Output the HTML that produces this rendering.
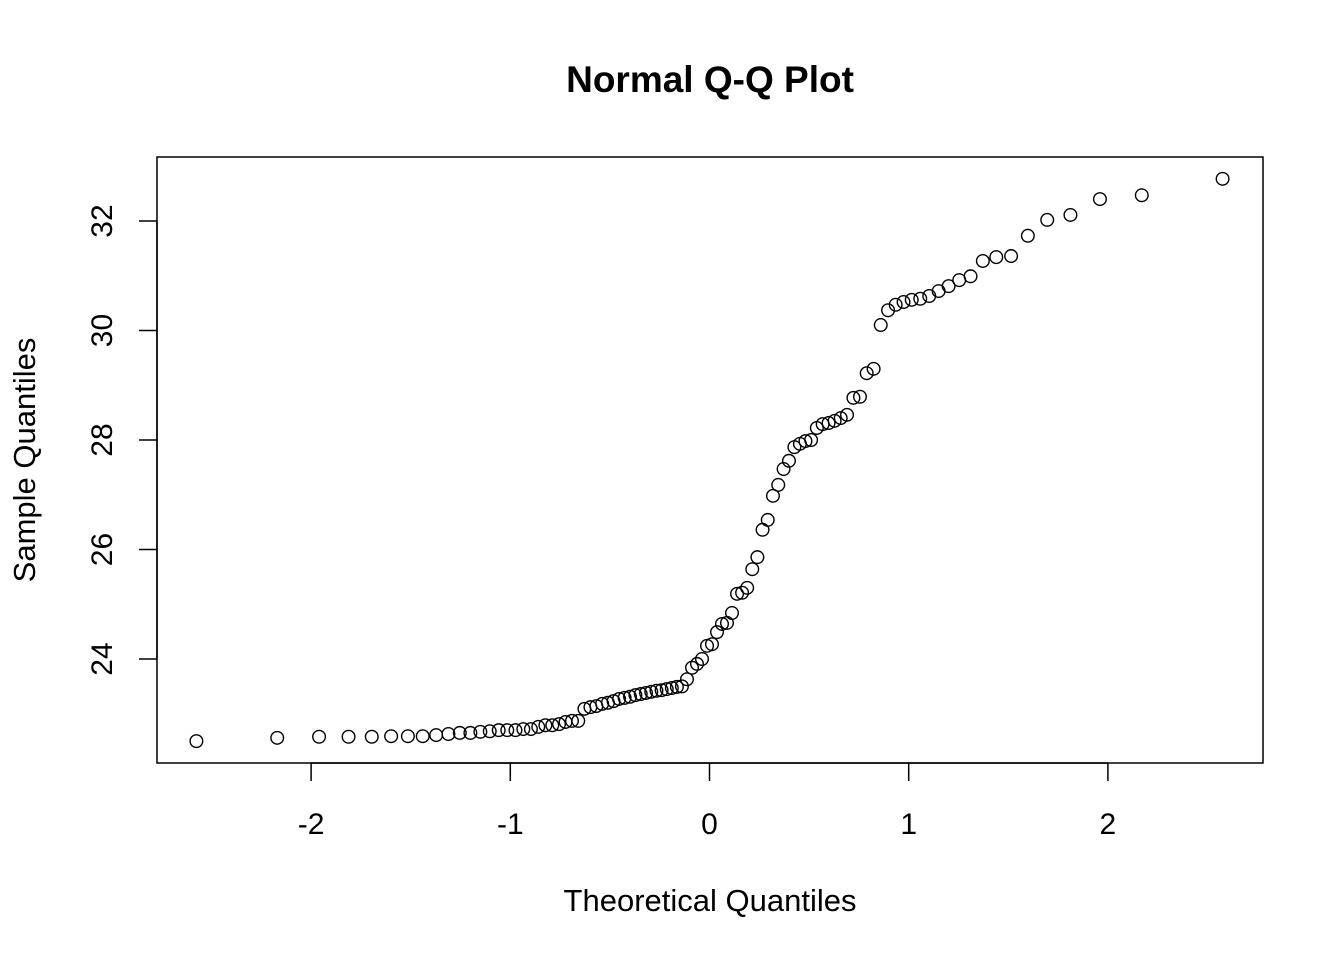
<!DOCTYPE html>
<html><head><meta charset="utf-8"><style>body{margin:0;background:#fff}svg text{font-family:"Liberation Sans",Arial,sans-serif}</style></head>
<body>
<svg id="c" width="1344" height="960">
<text x="710" y="92" text-anchor="middle" font-size="37" font-weight="bold">Normal Q-Q Plot</text>
<rect x="157" y="157" width="1106" height="606" fill="none" stroke="#000" stroke-width="1.5"/>
<text x="710" y="911" text-anchor="middle" font-size="31">Theoretical Quantiles</text>
<text transform="translate(35,460) rotate(-90)" text-anchor="middle" font-size="31">Sample Quantiles</text>
<g id="ax"></g><g id="pts"></g>
</svg>
<script>
const theoretical=[-2.5758,-2.1701,-1.9600,-1.8119,-1.6954,-1.5982,-1.5141,-1.4395,-1.3722,-1.3106,-1.2536,-1.2004,-1.1503,-1.1031,-1.0581,-1.0152,-0.9741,-0.9346,-0.8965,-0.8596,-0.8239,-0.7892,-0.7554,-0.7225,-0.6903,-0.6588,-0.6280,-0.5978,-0.5681,-0.5388,-0.5101,-0.4817,-0.4538,-0.4261,-0.3989,-0.3719,-0.3451,-0.3186,-0.2924,-0.2663,-0.2404,-0.2147,-0.1891,-0.1637,-0.1383,-0.1130,-0.0878,-0.0627,-0.0376,-0.0125,0.0125,0.0376,0.0627,0.0878,0.1130,0.1383,0.1637,0.1891,0.2147,0.2404,0.2663,0.2924,0.3186,0.3451,0.3719,0.3989,0.4261,0.4538,0.4817,0.5101,0.5388,0.5681,0.5978,0.6280,0.6588,0.6903,0.7225,0.7554,0.7892,0.8239,0.8596,0.8965,0.9346,0.9741,1.0152,1.0581,1.1031,1.1503,1.2004,1.2536,1.3106,1.3722,1.4395,1.5141,1.5982,1.6954,1.8119,1.9600,2.1701,2.5758];
const sample=[22.50,22.56,22.58,22.58,22.58,22.59,22.59,22.59,22.61,22.63,22.65,22.65,22.67,22.68,22.70,22.70,22.70,22.72,22.72,22.76,22.79,22.79,22.81,22.85,22.87,22.87,23.09,23.12,23.14,23.18,23.20,23.23,23.27,23.29,23.31,23.34,23.36,23.38,23.40,23.42,23.43,23.45,23.47,23.49,23.50,23.63,23.84,23.91,24.00,24.24,24.27,24.49,24.64,24.66,24.84,25.19,25.21,25.30,25.64,25.86,26.36,26.54,26.98,27.18,27.47,27.62,27.87,27.93,27.98,28.00,28.22,28.29,28.31,28.35,28.40,28.46,28.77,28.79,29.22,29.30,30.10,30.37,30.47,30.52,30.56,30.58,30.63,30.72,30.81,30.92,30.99,31.27,31.34,31.36,31.73,32.02,32.11,32.40,32.47,32.77];
const xTicks=[-2,-1,0,1,2];
const yTicks=[24,26,28,30,32];
const NS="http://www.w3.org/2000/svg";
const sx=v=>709.5+199.2*v, sy=v=>221+(32-v)*54.75;
const ax=document.getElementById('ax'), pts=document.getElementById('pts');
function mk(t,a,p){const e=document.createElementNS(NS,t);for(const k in a)e.setAttribute(k,a[k]);p.appendChild(e);return e;}
xTicks.forEach(t=>{
 const l=mk('line',{x1:sx(t),x2:sx(t),y1:763,y2:781,stroke:'#000','stroke-width':1.5},ax);
 
 
 const tx=mk('text',{x:sx(t),y:834,'text-anchor':'middle','font-size':30},ax);tx.textContent=t;
 
 
});
mk('line',{x1:sx(-2),x2:sx(2),y1:763,y2:763,stroke:'#000','stroke-width':1.5},ax);
yTicks.forEach(t=>{
 const l=mk('line',{x1:139,x2:157,y1:sy(t),y2:sy(t),stroke:'#000','stroke-width':1.5},ax);
 
 
 const tx=mk('text',{transform:`translate(112,${sy(t)}) rotate(-90)`,'text-anchor':'middle','font-size':30},ax);tx.textContent=t;
 
 
});
mk('line',{x1:157,x2:157,y1:sy(24),y2:sy(32),stroke:'#000','stroke-width':1.5},ax);
sample.forEach((v,i)=>{
 const c=mk('circle',{cx:sx(theoretical[i]),cy:sy(v),r:6.3,fill:'none',stroke:'#000','stroke-width':1.4},pts);
 
 
});
</script>
</body></html>
